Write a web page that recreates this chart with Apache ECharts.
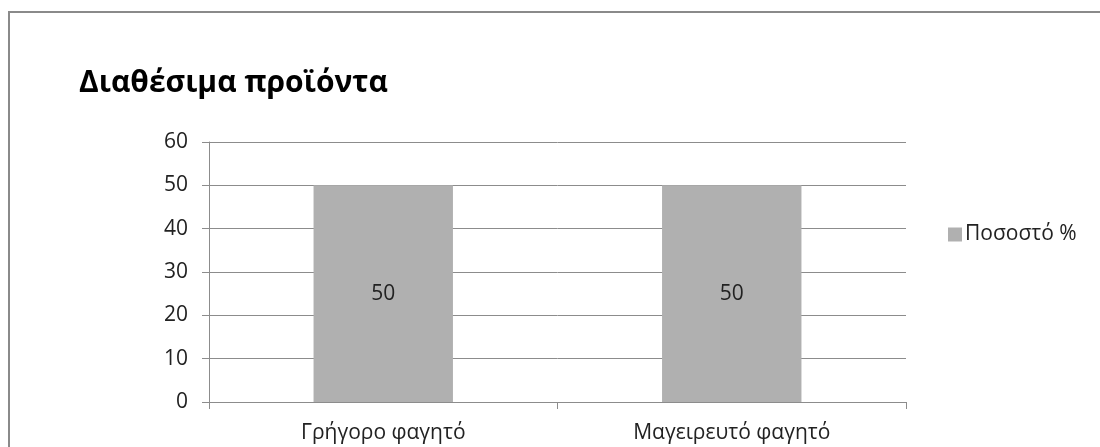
<!DOCTYPE html>
<html>
<head>
<meta charset="utf-8">
<script src="https://cdn.jsdelivr.net/npm/echarts@6/dist/echarts.min.js"></script>
<style>
  html, body { margin: 0; padding: 0; background: #fff; }
  #chart { width: 1100px; height: 447px; }
</style>
</head>
<body>
<div id="chart"></div>
<script>
const titleText = 'Διαθέσιμα προϊόντα';
const categories = ['Γρήγορο φαγητό', 'Μαγειρευτό φαγητό'];
const seriesName = 'Ποσοστό %';
const seriesValues = [50, 50];
const yTicks = { min: 0, max: 60, interval: 10 };

const font = '"Open Sans", "Noto Sans", sans-serif';
const chart = echarts.init(document.getElementById('chart'), null, { renderer: 'canvas' });

chart.setOption({
  animation: false,
  backgroundColor: '#ffffff',
  textStyle: { fontFamily: font },
  graphic: [{
    type: 'rect',
    silent: true,
    shape: { x: 9, y: 12, width: 1200, height: 600 },
    style: { fill: 'none', stroke: '#8a8a8a', lineWidth: 2 }
  }],
  title: {
    text: titleText,
    left: 74,
    top: 63,
    textStyle: { fontFamily: font, fontSize: 30, fontWeight: 'bold', color: '#000' }
  },
  legend: {
    data: [seriesName],
    left: 943,
    top: 219,
    icon: 'rect',
    itemWidth: 14,
    itemHeight: 14,
    itemGap: 4,
    textStyle: { fontFamily: font, fontSize: 21, color: '#222', padding: [0, 0, 0, -2] }
  },
  grid: { left: 209, top: 142, right: 194, bottom: 45, containLabel: false },
  xAxis: {
    type: 'category',
    data: categories,
    axisLine: { lineStyle: { color: '#8c8c8c', width: 1 } },
    axisTick: { show: true, length: 7, alignWithLabel: false, lineStyle: { color: '#8c8c8c' } },
    axisLabel: { fontFamily: font, fontSize: 21, color: '#222', margin: 21 }
  },
  yAxis: {
    type: 'value',
    min: yTicks.min,
    max: yTicks.max,
    interval: yTicks.interval,
    axisLine: { show: true, lineStyle: { color: '#8c8c8c', width: 1 } },
    axisTick: { show: true, length: 7, lineStyle: { color: '#8c8c8c' } },
    axisLabel: { fontFamily: font, fontSize: 21, color: '#222', margin: 21 },
    splitLine: { show: true, lineStyle: { color: '#8c8c8c', width: 1 } }
  },
  series: [{
    name: seriesName,
    type: 'bar',
    data: seriesValues,
    barWidth: '40%',
    itemStyle: { color: '#b0b0b0' },
    label: {
      show: true,
      position: 'inside',
      fontFamily: font,
      fontSize: 21,
      color: '#222'
    }
  }]
});
</script>
</body>
</html>
